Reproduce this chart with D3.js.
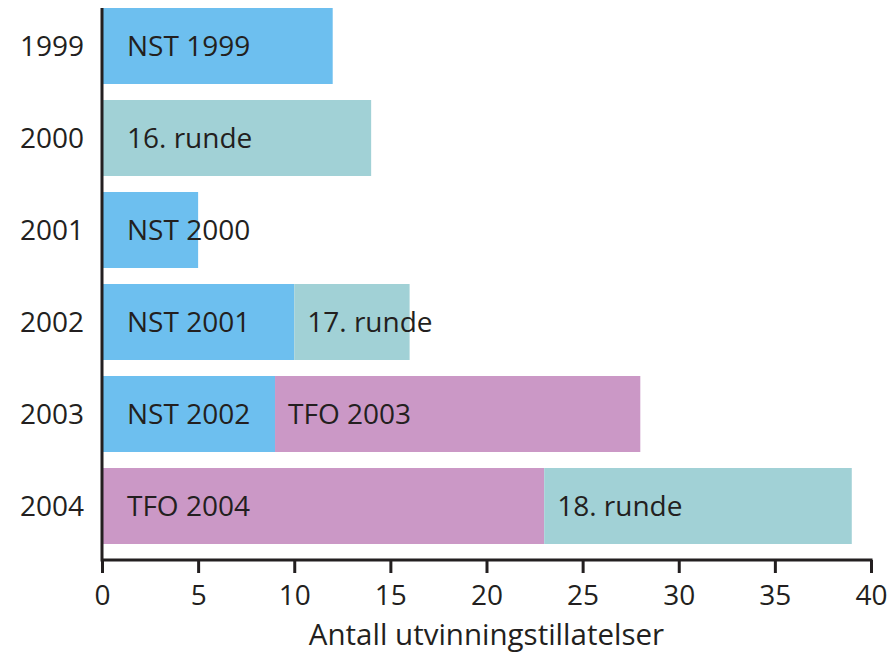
<!DOCTYPE html>
<html>
<head>
<meta charset="utf-8">
<script src="https://cdn.jsdelivr.net/npm/d3@7"></script>
<style>
  body { margin: 0; background: #fff; }
  text { font-family: "Open Sans", sans-serif; fill: #231f20; }
</style>
</head>
<body>
<svg width="895" height="654"></svg>
<script>
// år og tildelinger
var years = ['1999', '2000', '2001', '2002', '2003', '2004'];
var firstNames = ['NST 1999', '16. runde', 'NST 2000', 'NST 2001', 'NST 2002', 'TFO 2004'];
var firstValues = [12, 14, 5, 10, 9, 23];
var secondNames = ['', '', '', '17. runde', 'TFO 2003', '18. runde'];
var secondValues = [0, 0, 0, 6, 19, 16];
var xTicks = [0, 5, 10, 15, 20, 25, 30, 35, 40];
var xTitle = 'Antall utvinningstillatelser';

var marge = { top: 8, left: 102, right: 24, bottom: 94 };
var width = 895, height = 654;

function colorOf(name) {
    if (name.indexOf('NST') == 0) return '#6dbfef';
    if (name.indexOf('TFO') == 0) return '#cb98c6';
    return '#a1d1d6';
}

var svg = d3.select('svg');

var x = d3.scaleLinear()
    .domain([0, 40])
    .range([marge.left, 871]);

var y = d3.scaleBand()
    .domain(years)
    .range([marge.top, height - marge.bottom])
    .padding(0);

var barH = y.bandwidth() - 16;

// segmenter
var segs = [];
years.forEach(function(yr, i) {
    segs.push({ year: yr, name: firstNames[i], x0: 0, x1: firstValues[i], pad: 25 });
    if (secondValues[i] > 0) {
        segs.push({ year: yr, name: secondNames[i], x0: firstValues[i], x1: firstValues[i] + secondValues[i], pad: 13 });
    }
});

svg.append('g').selectAll('rect')
    .data(segs)
    .enter()
    .append('rect')
    .attr('x', function(d) { return x(d.x0); })
    .attr('y', function(d) { return y(d.year); })
    .attr('width', function(d) { return x(d.x1) - x(d.x0); })
    .attr('height', barH)
    .attr('fill', function(d) { return colorOf(d.name); });

svg.append('g').selectAll('text')
    .data(segs)
    .enter()
    .append('text')
    .attr('x', function(d) { return x(d.x0) + d.pad; })
    .attr('y', function(d) { return y(d.year) + barH / 2; })
    .attr('dy', '0.35em')
    .attr('font-size', 28)
    .text(function(d) { return d.name; });

// y-akse
svg.append('line')
    .attr('x1', x(0)).attr('x2', x(0))
    .attr('y1', marge.top).attr('y2', height - marge.bottom + 1.5)
    .attr('stroke', '#231f20')
    .attr('stroke-width', 3);

svg.append('g').selectAll('text')
    .data(years)
    .enter()
    .append('text')
    .attr('x', 84)
    .attr('y', function(d) { return y(d) + barH / 2; })
    .attr('dy', '0.35em')
    .attr('text-anchor', 'end')
    .attr('font-size', 28)
    .text(function(d) { return d; });

// x-akse
var xAxis = d3.axisBottom(x)
    .tickValues(xTicks)
    .tickSize(13)
    .tickSizeOuter(0)
    .tickPadding(12);

var gx = svg.append('g')
    .attr('transform', 'translate(0,' + (height - marge.bottom) + ')')
    .call(xAxis);

gx.select('.domain')
    .attr('stroke', '#231f20')
    .attr('stroke-width', 3)
    .attr('d', 'M' + x(0) + ',0H' + (x(40) + 1.5));
gx.selectAll('.tick line')
    .attr('stroke', '#231f20')
    .attr('stroke-width', 3);
gx.selectAll('.tick text')
    .attr('font-size', 28)
    .attr('font-family', '"Open Sans", sans-serif')
    .attr('fill', '#231f20');

svg.append('text')
    .attr('x', (x(0) + x(40)) / 2)
    .attr('y', 645)
    .attr('text-anchor', 'middle')
    .attr('font-size', 29.5)
    .text(xTitle);
</script>
</body>
</html>
